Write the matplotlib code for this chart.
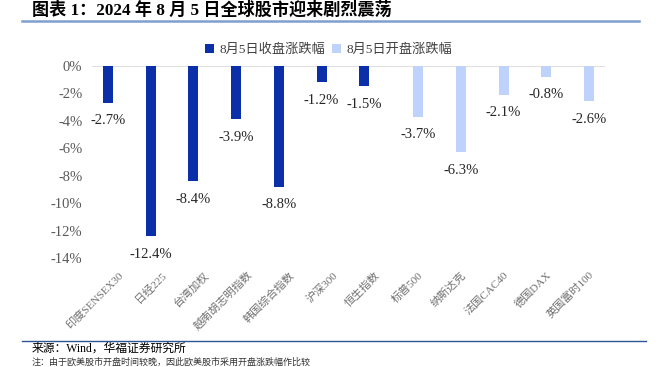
import matplotlib
matplotlib.use("Agg")
import matplotlib.pyplot as plt
import numpy as np
from matplotlib.patches import Patch
from matplotlib.lines import Line2D

plt.rcParams['font.family'] = ['Liberation Serif', 'Noto Sans CJK SC', 'DejaVu Sans']

categories = ["印度SENSEX30", "日经225", "台湾加权", "越南胡志明指数", "韩国综合指数",
              "沪深300", "恒生指数", "标普500", "纳斯达克", "法国CAC40", "德国DAX", "英国富时100"]
close_chg = [-2.7, -12.4, -8.4, -3.9, -8.8, -1.2, -1.5, None, None, None, None, None]
open_chg = [None, None, None, None, None, None, None, -3.7, -6.3, -2.1, -0.8, -2.6]
series_names = ["8月5日收盘涨跌幅", "8月5日开盘涨跌幅"]
yticks = [0, -2, -4, -6, -8, -10, -12, -14]

title = "图表 1：2024 年 8 月 5 日全球股市迎来剧烈震荡"
source = "来源：Wind，华福证券研究所"
note = "注：由于欧美股市开盘时间较晚，因此欧美股市采用开盘涨跌幅作比较"

dark = '#0a2fa8'
light = '#bfd2fb'

fig = plt.figure(figsize=(6.68, 3.67), dpi=100)
ax = fig.add_axes([92/668, 1-258/367, (605-92)/668, (258-65.7)/367])

x = np.arange(len(categories))
w = 0.234
off = 0.129
cv = np.array([np.nan if v is None else v for v in close_chg])
ov = np.array([np.nan if v is None else v for v in open_chg])
ax.bar(x - off, cv, width=w, color=dark, zorder=3)
ax.bar(x + off, ov, width=w, color=light, zorder=3)

for xs, vals in ((x - off, cv), (x + off, ov)):
    for xi, v in zip(xs, vals):
        if not np.isnan(v):
            ax.annotate(f"{v:.1f}%", (xi, v), xytext=(0, -18), textcoords='offset pixels',
                        ha='center', va='center', fontsize=10.5, color='#262626')

ax.set_xlim(-0.5, len(categories) - 0.5)
ax.set_ylim(-14, 0)
ax.set_yticks(yticks)
ax.set_yticklabels([f"{t}%" for t in yticks], fontsize=10.5, color='#595959')
ax.axhline(0, color='#d9d9d9', lw=1.2, zorder=2)
for s in ax.spines.values():
    s.set_visible(False)
ax.tick_params(axis='both', length=0)
ax.tick_params(axis='y', pad=7)
ax.set_xticks(x + 0.2)
ax.set_xticklabels(categories, rotation=45, ha='right', va='center',
                   rotation_mode='anchor', fontsize=8, color='#707070')
ax.tick_params(axis='x', pad=11)

handles = [Patch(facecolor=dark, edgecolor='none'), Patch(facecolor=light, edgecolor='none')]
fig.legend(handles, series_names, loc='center', bbox_to_anchor=(0.492, 1-50/367), ncol=2,
           frameon=False, handlelength=0.7, handleheight=0.7,
           handletextpad=0.4, columnspacing=0.5, prop={'size': 9.5}, labelcolor='#404040')

fig.text(32/668, 1-10/367, title, fontsize=12.3, fontweight='bold', ha='left', va='center', color='black')
fig.add_artist(Line2D([22/668, 639/668], [1-20.5/367, 1-20.5/367], color='#7f9fcf', lw=1.8))
fig.add_artist(Line2D([22/668, 646/668], [1-341/367, 1-341/367], color='#2e5597', lw=1.0))
fig.text(32/668, 1-349/367, source, fontsize=8.5, ha='left', va='center', color='black')
fig.text(32/668, 1-366.5/367, note, fontsize=6.5, ha='left', va='bottom', color='#333333')

fig.savefig('out.png', dpi=100)
